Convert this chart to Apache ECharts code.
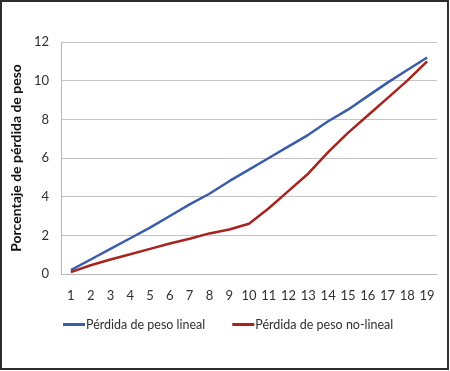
<!DOCTYPE html>
<html>
<head>
<meta charset="utf-8">
<script src="https://cdn.jsdelivr.net/npm/echarts@6/dist/echarts.min.js"></script>
<style>
html,body{margin:0;padding:0;background:#fff;}
#frame{position:absolute;left:0;top:0;width:449px;height:370px;box-sizing:border-box;border:2.5px solid #2d2d2d;}
#chart{position:absolute;left:0;top:0;width:450px;height:371px;}
</style>
</head>
<body>
<div id="chart"></div>
<div id="frame"></div>
<script>
const categories = ['1','2','3','4','5','6','7','8','9','10','11','12','13','14','15','16','17','18','19'];
const linealValues = [0.2,0.75,1.3,1.85,2.4,3.0,3.6,4.15,4.8,5.4,6.0,6.6,7.2,7.9,8.5,9.2,9.9,10.55,11.2];
const noLinealValues = [0.1,0.45,0.75,1.02,1.3,1.58,1.82,2.1,2.3,2.6,3.4,4.3,5.2,6.3,7.3,8.2,9.1,10.0,11.0];
const yTicks = [0,2,4,6,8,10,12];
const seriesNames = ['Pérdida de peso lineal','Pérdida de peso no-lineal'];
const yTitle = 'Porcentaje de pérdida de peso';

const chart = echarts.init(document.getElementById('chart'), null, {renderer:'canvas'});
const font = 'Lato, "Open Sans", sans-serif';
chart.setOption({
  animation:false,
  backgroundColor:'#ffffff',
  grid:{left:61, right:13, top:42, bottom:97, containLabel:false},
  legend:{
    data:seriesNames,
    left:63, top:318, padding:0,
    itemWidth:22, itemHeight:3, itemGap:27,
    icon:'rect',
    textStyle:{fontFamily:font, fontSize:12.5, color:'#303030', padding:[0,0,0,-4]}
  },
  xAxis:{
    type:'category',
    data:categories,
    boundaryGap:true,
    axisLine:{show:true, lineStyle:{color:'#b8b8b8', width:1}},
    axisTick:{show:false},
    axisLabel:{fontFamily:font, fontSize:13, color:'#303030', margin:15, interval:0}
  },
  yAxis:{
    type:'value',
    min:yTicks[0], max:yTicks[yTicks.length-1], interval:2,
    name:yTitle,
    nameLocation:'middle',
    nameGap:31,
    nameTextStyle:{fontFamily:font, fontSize:14, fontWeight:'bold', color:'#111'},
    axisLine:{show:true, lineStyle:{color:'#b8b8b8', width:1}},
    axisTick:{show:false},
    splitLine:{show:true, lineStyle:{color:'#c4c4c4', width:1}},
    axisLabel:{fontFamily:font, fontSize:13, color:'#303030', margin:12}
  },
  series:[
    {name:seriesNames[0], type:'line', data:linealValues, symbol:'none',
     lineStyle:{color:'#3b5ca9', width:2.5}, itemStyle:{color:'#3b5ca9'}},
    {name:seriesNames[1], type:'line', data:noLinealValues, symbol:'none',
     lineStyle:{color:'#a8231e', width:2.5}, itemStyle:{color:'#a8231e'}}
  ]
});
</script>
</body>
</html>
